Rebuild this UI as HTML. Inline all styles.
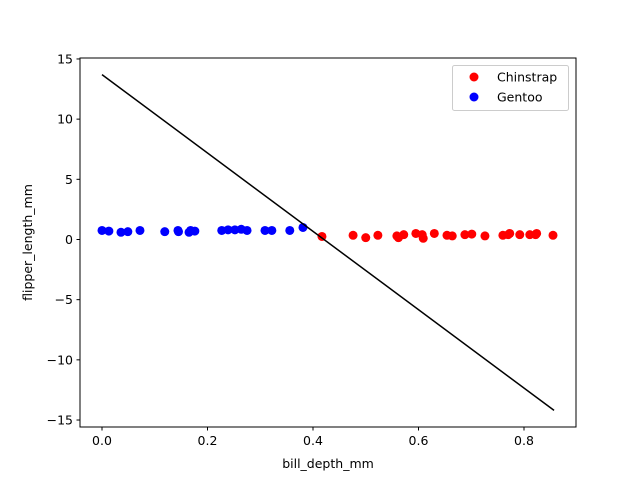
<!DOCTYPE html>
<html><head><meta charset="utf-8"><style>body{margin:0;background:#fff}svg{display:block;font-family:"DejaVu Sans","Liberation Sans",sans-serif}</style></head>
<body>
<svg id="chart" width="640" height="480" viewBox="0 0 640 480"></svg>
<script>
const gentooX=[0.0,0.013,0.036,0.049,0.072,0.119,0.144,0.165,0.176,0.227,0.239,0.252,0.264,0.275,0.309,0.322,0.356,0.381,0.145,0.168];
const gentooY=[0.75,0.7,0.6,0.65,0.75,0.65,0.75,0.6,0.7,0.75,0.8,0.8,0.85,0.75,0.75,0.75,0.75,1.0,0.65,0.75];
const chinX=[0.417,0.476,0.5,0.523,0.559,0.572,0.595,0.607,0.63,0.654,0.664,0.688,0.701,0.726,0.76,0.773,0.792,0.811,0.824,0.855,0.562,0.609,0.77,0.822];
const chinY=[0.25,0.35,0.15,0.35,0.3,0.4,0.5,0.4,0.5,0.35,0.3,0.4,0.45,0.3,0.35,0.5,0.4,0.4,0.5,0.35,0.15,0.1,0.4,0.4];
const lineX=[0.0,0.857];
const lineY=[13.7,-14.2];
const xTicks=[0.0,0.2,0.4,0.6,0.8];
const xTickLabels=["0.0","0.2","0.4","0.6","0.8"];
const yTicks=[15,10,5,0,-5,-10,-15];
const yTickLabels=["15","10","5","0","−5","−10","−15"];
const L=80,R=576,T=58,B=427;
const xMin=-0.0417,xMax=0.8986,yMin=-15.58,yMax=15.08;
const sx=v=>L+(v-xMin)/(xMax-xMin)*(R-L);
const sy=v=>B-(v-yMin)/(yMax-yMin)*(B-T);
const svg=document.getElementById('chart');const NS='http://www.w3.org/2000/svg';
function mk(t,a,p){const e=document.createElementNS(NS,t);for(const k in a)e.setAttribute(k,a[k]);(p||svg).appendChild(e);return e;}
const frame=mk('rect',{x:L,y:T,width:R-L,height:B-T,fill:'none',stroke:'#000','stroke-width':1});


xTicks.forEach((v,i)=>{const x=sx(v);
 const t=mk('line',{x1:x,x2:x,y1:B,y2:B+3.5,stroke:'#000'});
 
 
 const l=mk('text',{x:x,y:B+18,'font-size':12.5,'text-anchor':'middle'});l.textContent=xTickLabels[i];
 
 });
yTicks.forEach((v,i)=>{const y=sy(v);
 const t=mk('line',{x1:L-3.5,x2:L,y1:y,y2:y,stroke:'#000'});
 
 
 const l=mk('text',{x:L-7,y:y+4.5,'font-size':12.5,'text-anchor':'end'});l.textContent=yTickLabels[i];
 
 });
const xt=mk('text',{x:(L+R)/2,y:468,'font-size':12.5,'text-anchor':'middle'});xt.textContent='bill_depth_mm';


const yt=mk('text',{x:0,y:0,'font-size':12.5,'text-anchor':'middle',transform:`translate(32,${(T+B)/2}) rotate(-90)`});yt.textContent='flipper_length_mm';


chinX.forEach((v,i)=>{const c=mk('circle',{cx:sx(v),cy:sy(chinY[i]),r:4.5,fill:'#ff0000'});
 
 });
gentooX.forEach((v,i)=>{const c=mk('circle',{cx:sx(v),cy:sy(gentooY[i]),r:4.5,fill:'#0000ff'});
 
 });
const ln=mk('line',{x1:sx(lineX[0]),y1:sy(lineY[0]),x2:sx(lineX[1]),y2:sy(lineY[1]),stroke:'#000','stroke-width':1.5});


const lg=mk('g',{});


mk('rect',{x:452.5,y:65.5,width:116,height:45,rx:2,fill:'#fff',stroke:'#ccc'},lg);
const items=[['Chinstrap','#ff0000'],['Gentoo','#0000ff']];
items.forEach((it,i)=>{const y=77+i*20;
 const g=mk('g',{},lg);
 
 
 mk('circle',{cx:474,cy:y,r:4.5,fill:it[1]},g);
 const t=mk('text',{x:497,y:y+4.5,'font-size':12.5},g);t.textContent=it[0];});
</script>
</body></html>
